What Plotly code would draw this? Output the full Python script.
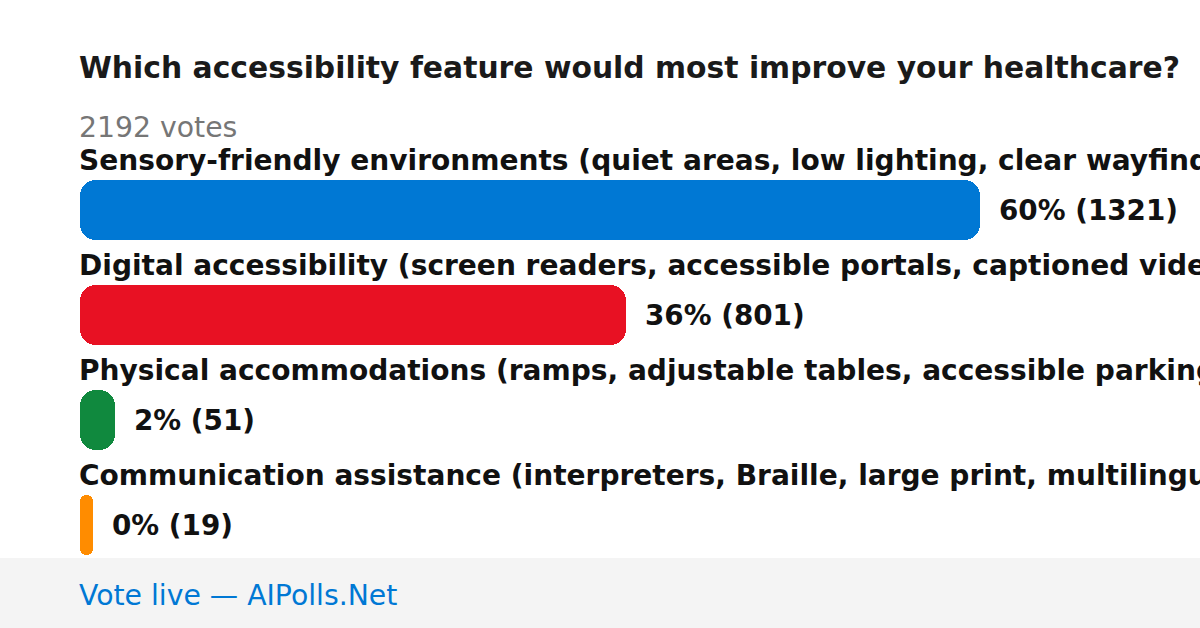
import plotly.graph_objects as go

# ---- data ----
title_text = "Which accessibility feature would most improve your healthcare?"
total_votes = 2192
categories = [
    "Sensory-friendly environments (quiet areas, low lighting, clear wayfinding)",
    "Digital accessibility (screen readers, accessible portals, captioned videos)",
    "Physical accommodations (ramps, adjustable tables, accessible parking)",
    "Communication assistance (interpreters, Braille, large print, multilingual support)",
]
votes = [1321, 801, 51, 19]
percent_labels = ["60%", "36%", "2%", "0%"]
colors = ["#0078D4", "#E81123", "#10893E", "#FF8C00"]
footer_text = "Vote live \u2014 AIPolls.Net"

# ---- layout constants (pixels) ----
W, H = 1200, 628
LEFT = 80
MAX_BAR_PX = 900
ROW0_PX = 210
ROW_STEP = 105
BAR_PX = 60
FONT = "DejaVu Sans"
PAD = -3  # compensate annotation inner padding

vmax = max(votes)
px_per_unit = MAX_BAR_PX / vmax
x_range = [-LEFT / px_per_unit, (W - LEFT) / px_per_unit]
y_range = [(H - ROW0_PX) / ROW_STEP, -ROW0_PX / ROW_STEP]

fig = go.Figure()

fig.add_trace(go.Bar(
    y=categories, x=votes, base=[0] * len(votes), orientation="h",
    width=BAR_PX / ROW_STEP, marker=dict(color=colors, cornerradius=16, line=dict(width=0)),
    hoverinfo="skip", showlegend=False,
))

annotations = []
for cat, v, p in zip(categories, votes, percent_labels):
    annotations.append(dict(
        x=0, y=cat, xref="x", yref="y", text=f"<b>{cat}</b>", showarrow=False,
        xanchor="left", yanchor="middle", yshift=50, xshift=PAD,
        font=dict(family=FONT, size=28.05, color="#111111"),
    ))
    annotations.append(dict(
        x=v, y=cat, xref="x", yref="y", text=f"<b>{p} ({v})</b>", showarrow=False,
        xanchor="left", yanchor="middle", xshift=17,
        font=dict(family=FONT, size=27.8, color="#111111"),
    ))

annotations.append(dict(
    x=LEFT / W, y=1 - 68 / H, xref="paper", yref="paper", text=f"<b>{title_text}</b>",
    showarrow=False, xanchor="left", yanchor="middle", xshift=PAD,
    font=dict(family=FONT, size=29.8, color="#1a1a1a"),
))
annotations.append(dict(
    x=LEFT / W, y=1 - 127 / H, xref="paper", yref="paper", text=f"{total_votes} votes",
    showarrow=False, xanchor="left", yanchor="middle", xshift=PAD,
    font=dict(family=FONT, size=28.3, color="#767676"),
))
annotations.append(dict(
    x=LEFT / W, y=1 - 595 / H, xref="paper", yref="paper", text=footer_text,
    showarrow=False, xanchor="left", yanchor="middle", xshift=PAD,
    font=dict(family=FONT, size=28.3, color="#0078D4"),
))

fig.update_layout(
    width=W, height=H, margin=dict(l=0, r=0, t=0, b=0),
    paper_bgcolor="white", plot_bgcolor="rgba(0,0,0,0)",
    barmode="overlay", bargap=0,
    xaxis=dict(range=x_range, visible=False, fixedrange=True),
    yaxis=dict(range=y_range, visible=False, type="category",
               categoryorder="array", categoryarray=categories, fixedrange=True),
    shapes=[dict(type="rect", xref="paper", yref="paper", x0=0, x1=1, y0=0, y1=70 / H,
                 fillcolor="#F4F4F4", line=dict(width=0), layer="below")],
    annotations=annotations,
    showlegend=False,
)

fig.write_html(
    "out.html",
    config={"displayModeBar": False},
    post_script="document.body.style.margin='0';document.body.style.padding='0';",
)
